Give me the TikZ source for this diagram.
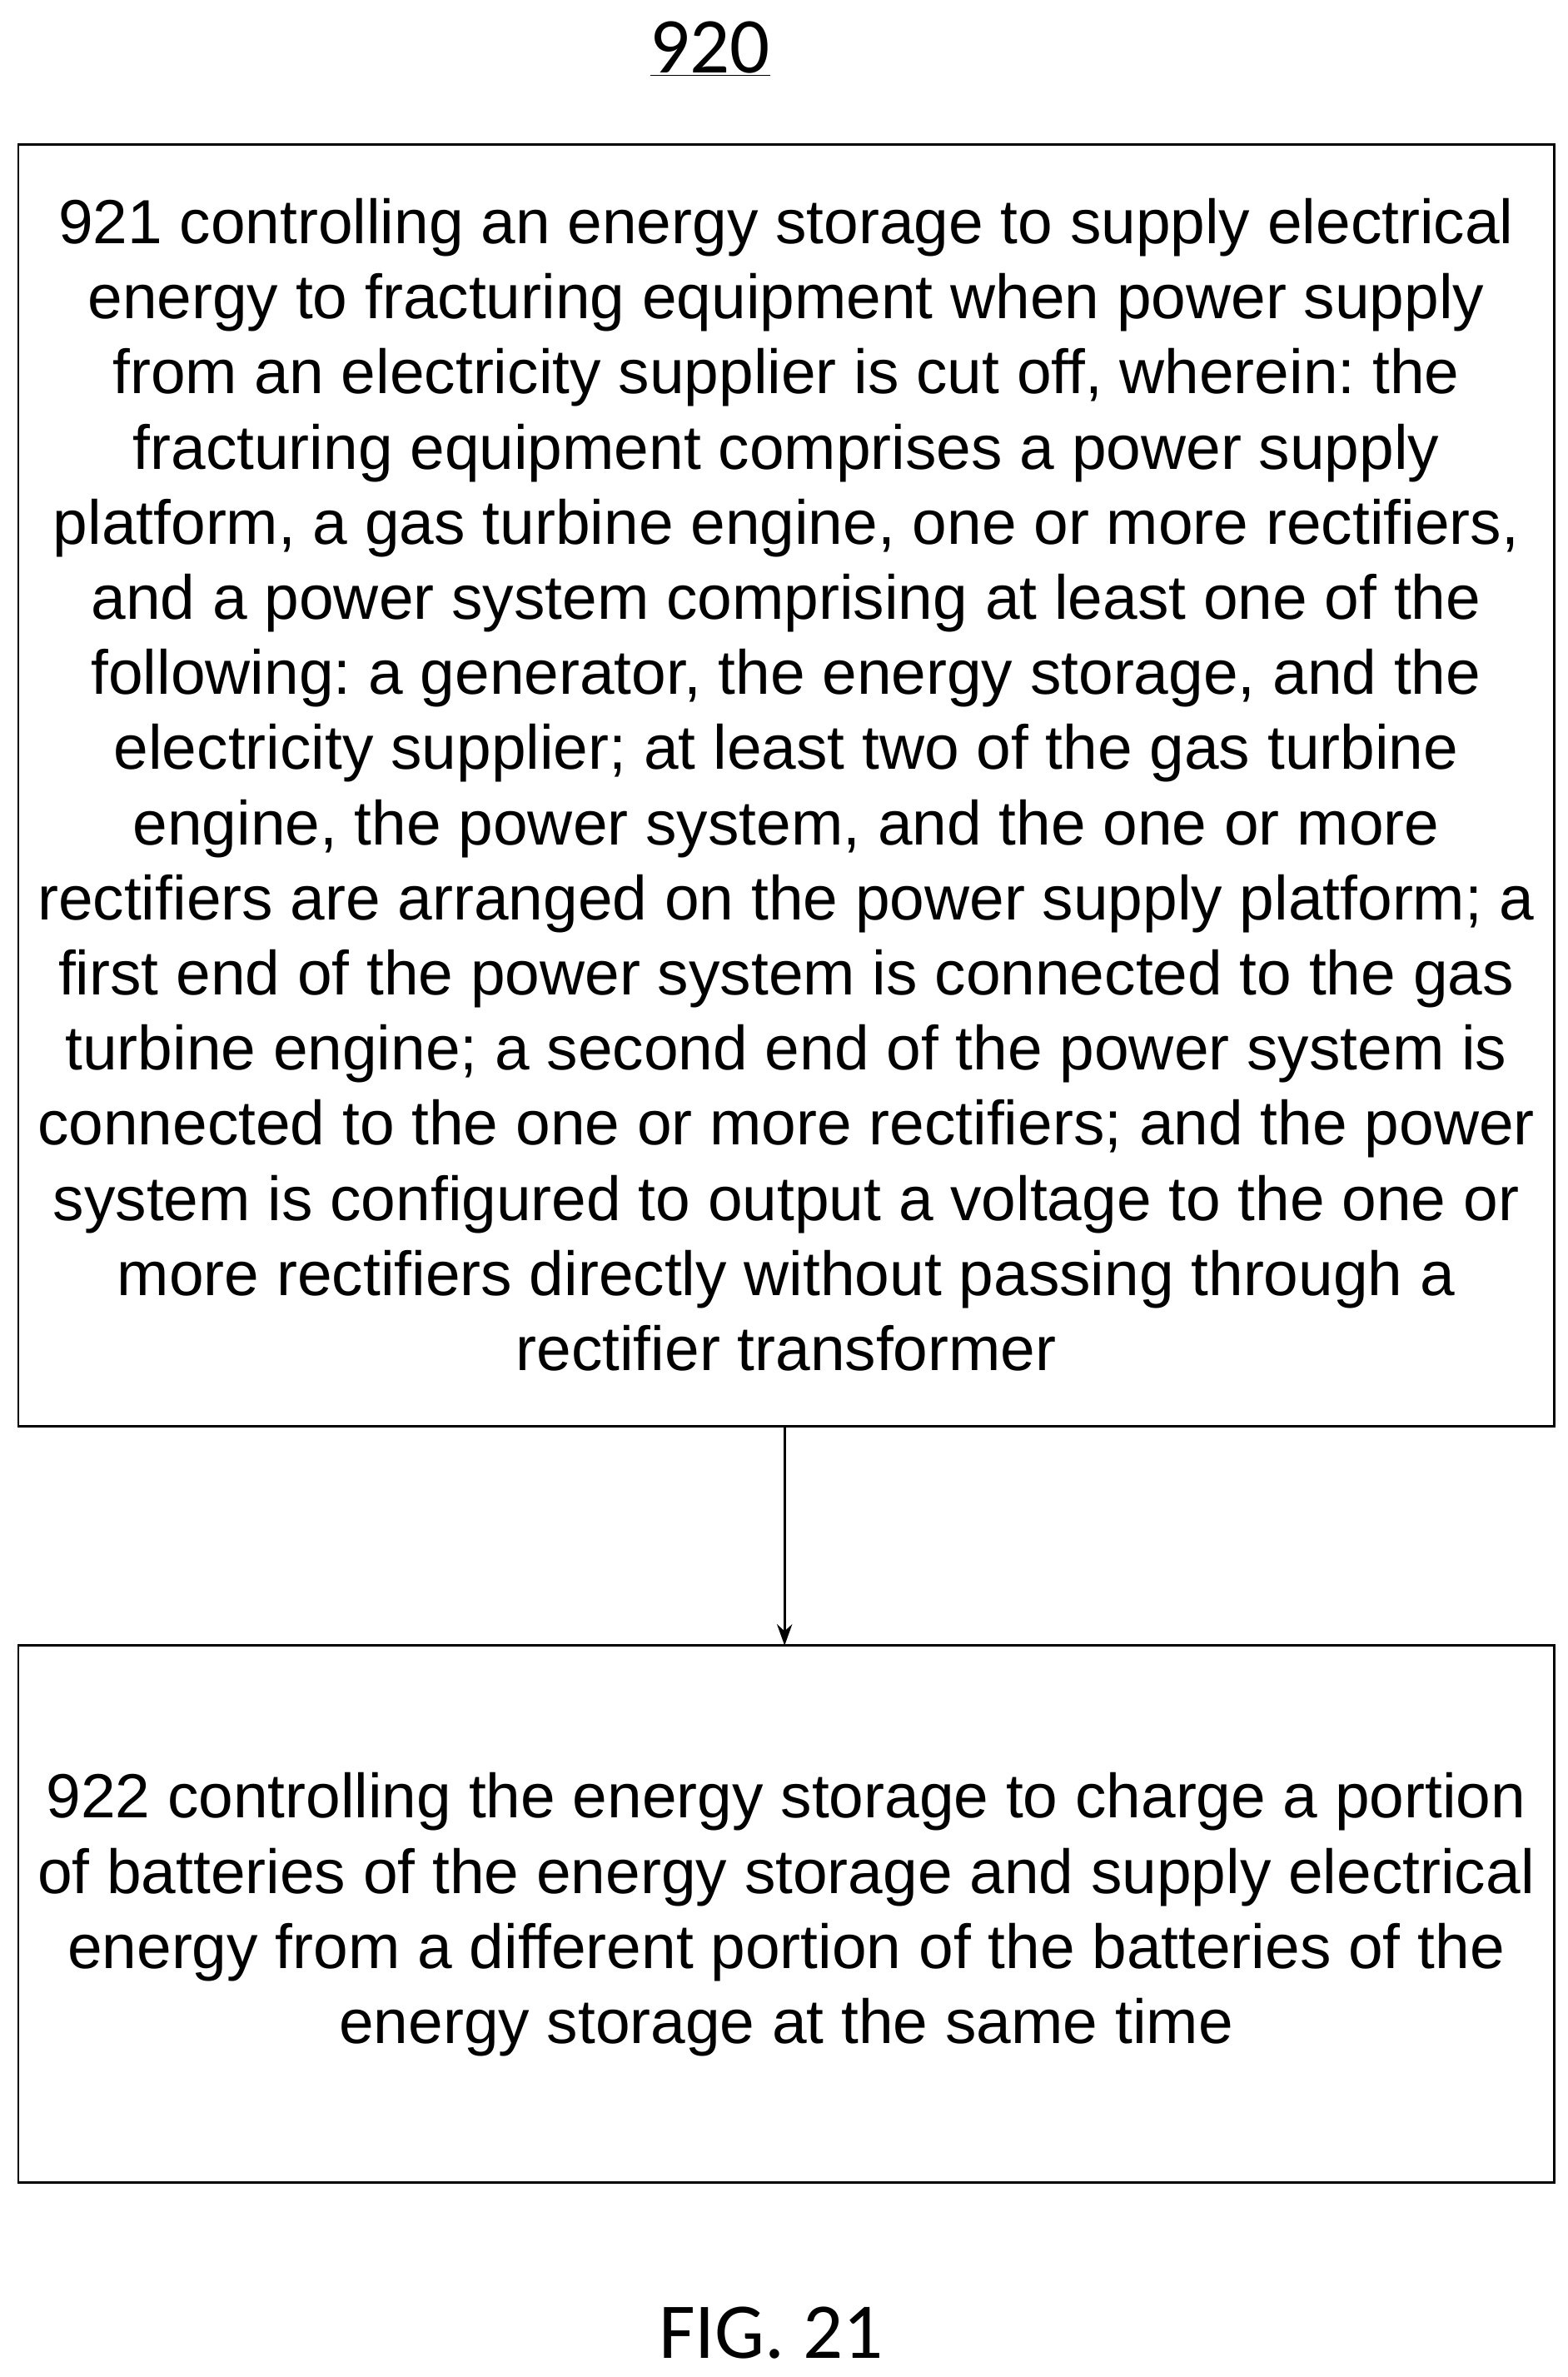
\documentclass[tikz,border=0pt]{standalone}
\usepackage{fontspec}
\setmainfont{Liberation Sans}
\newfontfamily\calib{Carlito}
\usetikzlibrary{positioning,arrows.meta}
\frenchspacing
\begin{document}
\begin{tikzpicture}[x=1pt,y=1pt,
    stepbox/.style={align=center,inner sep=0pt,
      font=\fontsize{41}{49.4}\selectfont},
    label/.style={font=\calib\fontsize{52}{58}\selectfont}]
  \useasboundingbox (0,0) rectangle (1031,-1563);

  \node[label] (title) at (467,-32) {\underline{920}};
  \draw[line width=1.5pt] (12,-95) rectangle (1022,-938);
  \draw[line width=1.5pt] (12,-1082) rectangle (1022,-1435);

  \node[stepbox] (s921) at (517,-516) {921 controlling an energy storage to supply electrical\\
    energy to fracturing equipment when power supply\\
    from an electricity supplier is cut off, wherein: the\\
    fracturing equipment comprises a power supply\\
    platform, a gas turbine engine, one or more rectifiers,\\
    and a power system comprising at least one of the\\
    following: a generator, the energy storage, and the\\
    electricity supplier; at least two of the gas turbine\\
    engine, the power system, and the one or more\\
    rectifiers are arranged on the power supply platform; a\\
    first end of the power system is connected to the gas\\
    turbine engine; a second end of the power system is\\
    connected to the one or more rectifiers; and the power\\
    system is configured to output a voltage to the one or\\
    more rectifiers directly without passing through a\\
    rectifier transformer};
  \node[stepbox] (s922) at (517,-1259) {922 controlling the energy storage to charge a portion\\
    of batteries of the energy storage and supply electrical\\
    energy from a different portion of the batteries of the\\
    energy storage at the same time};

  \coordinate (top) at (516,-938);
  \coordinate (bot) at (516,-1082);
  \draw[line width=1.5pt,-{Stealth[length=14pt,width=10pt]}] (top) -- (bot);

  \node[label] (fig) at (507,-1534) {FIG. 21};
\end{tikzpicture}
\end{document}
